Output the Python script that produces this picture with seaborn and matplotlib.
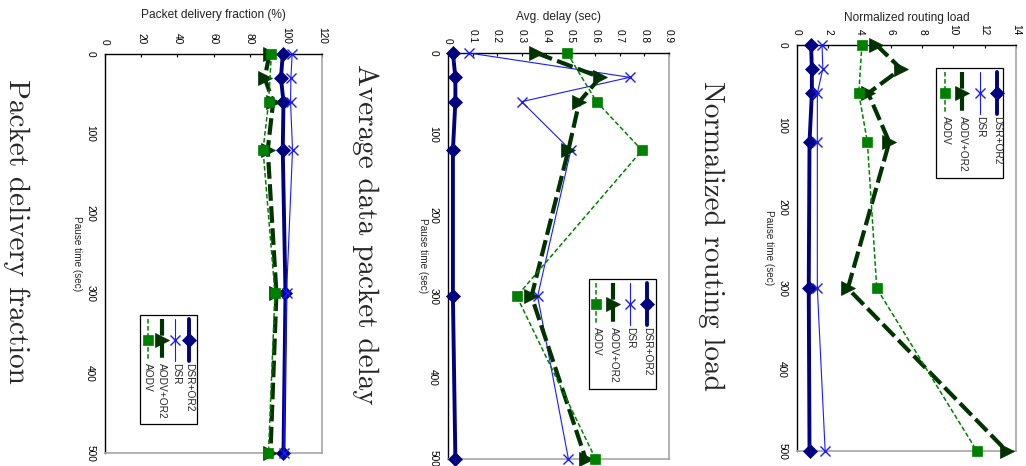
"""重绘：三幅顺时针旋转 90° 的 Excel 风格折线图（DSR / AODV 与 OR2 对比）。"""

import matplotlib.pyplot as plt
import pandas as pd
import seaborn as sns
from matplotlib.lines import Line2D
from matplotlib.patches import Rectangle

FIG_W, FIG_H = 1026, 466
DPI = 100

SERIES_NAMES = ["DSR+OR2", "DSR", "AODV+OR2", "AODV"]
PAUSE_TIMES = [0, 30, 60, 120, 300, 500]
AODV_PAUSE_TIMES = [0, 60, 120, 300, 500]
PAUSE_TICKS = [0, 100, 200, 300, 400, 500]

# Packet delivery fraction (%)
PDF_DSR_OR2 = [98.3, 97.3, 98.7, 98.3, 99.8, 98.7]
PDF_DSR = [103.5, 102.8, 102.6, 103.7, 100.4, 98.9]
PDF_AODV_OR2 = [91.0, 88.3, 93.0, 90.0, 94.8, 91.5]
PDF_AODV = [92.0, 90.5, 87.4, 94.0, 90.4]
PDF_TICKS = [0, 20, 40, 60, 80, 100, 120]
PDF_TICK_LABELS = ["0", "20", "40", "60", "80", "100", "120"]

# Avg. delay (sec)
DELAY_DSR_OR2 = [0.02, 0.03, 0.03, 0.02, 0.02, 0.03]
DELAY_DSR = [0.085, 0.74, 0.30, 0.50, 0.365, 0.49]
DELAY_AODV_OR2 = [0.36, 0.62, 0.535, 0.49, 0.34, 0.56]
DELAY_AODV = [0.485, 0.605, 0.79, 0.28, 0.60]
DELAY_TICKS = [0, 0.1, 0.2, 0.3, 0.4, 0.5, 0.6, 0.7, 0.8, 0.9]
DELAY_TICK_LABELS = ["0", "0.1", "0.2", "0.3", "0.4", "0.5", "0.6", "0.7", "0.8", "0.9"]

# Normalized routing load
LOAD_DSR_OR2 = [0.9, 0.95, 0.95, 0.8, 0.75, 0.8]
LOAD_DSR = [1.6, 1.65, 1.3, 1.3, 1.3, 1.8]
LOAD_AODV_OR2 = [5.05, 6.65, 4.55, 5.9, 3.25, 13.4]
LOAD_AODV = [4.15, 3.95, 4.5, 5.1, 11.5]
LOAD_TICKS = [0, 2, 4, 6, 8, 10, 12, 14]
LOAD_TICK_LABELS = ["0", "2", "4", "6", "8", "10", "12", "14"]

STYLES = {
    "DSR+OR2": dict(color="#000080", linewidth=2.8, linestyle="-",
                    marker="D", markersize=7.5, markeredgewidth=0.5),
    "DSR": dict(color="#1a1aff", linewidth=0.8, linestyle="-",
                marker="x", markersize=7, markeredgewidth=1.0),
    "AODV+OR2": dict(color="#003300", linewidth=3.0, linestyle=(0, (4, 1.3)),
                     marker=">", markersize=10, markeredgewidth=0.5),
    "AODV": dict(color="#008000", linewidth=1.1, linestyle=(0, (3, 1.6)),
                 marker="s", markersize=6.5, markeredgewidth=0.5),
}

GRAY = "#a6a6a6"


def fx(px: float) -> float:
    return px / FIG_W


def fy(py: float) -> float:
    return 1 - py / FIG_H


def _long_frame(values: list[list[float]]) -> pd.DataFrame:
    rows = []
    for name, vals in zip(SERIES_NAMES, values):
        times = AODV_PAUSE_TIMES if name == "AODV" else PAUSE_TIMES
        for t, v in zip(times, vals):
            rows.append({"series": name, "pause": t, "value": v})
    return pd.DataFrame(rows)


def _legend(fig, box, col0, step):
    """旋转后的图例：句柄竖放在上，文字在下自上而下读。"""
    x0, y0, x1, y1 = box
    fig.add_artist(Rectangle((fx(x0), fy(y1)), fx(x1 - x0), (y1 - y0) / FIG_H,
                             transform=fig.transFigure, facecolor="white",
                             edgecolor="black", linewidth=0.9, zorder=5))
    for i, name in enumerate(SERIES_NAMES):
        st = STYLES[name]
        cx = x1 - col0 - i * step
        fig.add_artist(Line2D([fx(cx), fx(cx)], [fy(y0 + 4), fy(y0 + 46)],
                              transform=fig.transFigure, color=st["color"],
                              linewidth=st["linewidth"], linestyle=st["linestyle"], zorder=6))
        fig.add_artist(Line2D([fx(cx)], [fy(y0 + 25)], transform=fig.transFigure,
                              color=st["color"], marker=st["marker"],
                              markersize=st["markersize"], markeredgewidth=st["markeredgewidth"],
                              markeredgecolor=st["color"], linestyle="none", zorder=7))
        fig.text(fx(cx + 0.5), fy(y0 + 48), name, rotation=-90, ha="center", va="top",
                 fontsize=7.3, zorder=8)


def draw_panel(fig, cfg):
    l, t, r, b = cfg["rect"]
    ax = fig.add_axes([fx(l), fy(b), fx(r - l), (b - t) / FIG_H])
    df = _long_frame(cfg["values"])
    for name in SERIES_NAMES:
        st = STYLES[name]
        sns.lineplot(data=df[df["series"] == name], x="value", y="pause", orient="y",
                     estimator=None, ax=ax, color=st["color"], linewidth=st["linewidth"],
                     linestyle=st["linestyle"], marker=st["marker"],
                     markersize=st["markersize"], markeredgewidth=st["markeredgewidth"],
                     markeredgecolor=st["color"], clip_on=False, zorder=3)

    ax.set_xlim(cfg["ticks"][0], cfg["ticks"][-1])
    ax.set_ylim(500, 0)
    ax.xaxis.tick_top()
    ax.xaxis.set_label_position("top")
    ax.set_xticks(cfg["ticks"], cfg["tick_labels"])
    ax.set_yticks(PAUSE_TICKS, [str(v) for v in PAUSE_TICKS])
    ax.tick_params(axis="both", direction="in", length=2.5, width=0.8,
                   labelsize=7.3, pad=7, colors="black")
    ax.tick_params(axis="x", labelrotation=-90)
    ax.tick_params(axis="y", labelrotation=-90)
    for lab in ax.get_yticklabels():
        lab.set_verticalalignment("center")

    ax.set_xlabel(cfg["xlabel"], fontsize=8.6, va="center", color="#222222")
    ax.xaxis.set_label_coords(0.5, cfg["xlabel_y"])
    ax.set_ylabel("Pause time (sec)", fontsize=7.2, rotation=-90, va="center", ha="center")
    ax.yaxis.set_label_coords(cfg["ylabel_x"], 0.5)

    for side in ("top", "left"):
        ax.spines[side].set_color("black")
        ax.spines[side].set_linewidth(1.0)
    for side in ("right", "bottom"):
        ax.spines[side].set_color(GRAY)
        ax.spines[side].set_linewidth(1.2)

    _legend(fig, cfg["legend_box"], cfg["legend_col0"], cfg["legend_step"])
    fig.text(fx(cfg["title_x"]), fy(cfg["title_y"]), cfg["title"], rotation=-90,
             ha="center", va="center", fontsize=21, family=["cmr10", "DejaVu Serif"])


def main() -> None:
    sns.set_style("white")
    plt.rcParams["font.family"] = ["Liberation Sans", "DejaVu Sans"]
    plt.rcParams["axes.unicode_minus"] = False

    fig = plt.figure(figsize=(FIG_W / DPI, FIG_H / DPI), dpi=DPI)

    panels = [
        dict(rect=(105, 54, 322, 453),
             values=[PDF_DSR_OR2, PDF_DSR, PDF_AODV_OR2, PDF_AODV],
             ticks=PDF_TICKS, tick_labels=PDF_TICK_LABELS,
             xlabel="Packet delivery fraction (%)", xlabel_y=1.098, ylabel_x=-0.13,
             legend_box=(140, 315, 197, 424), legend_col0=8, legend_step=13.7,
             title="Packet delivery fraction", title_x=16, title_y=231),
        dict(rect=(448, 53, 669, 458.5),
             values=[DELAY_DSR_OR2, DELAY_DSR, DELAY_AODV_OR2, DELAY_AODV],
             ticks=DELAY_TICKS, tick_labels=DELAY_TICK_LABELS,
             xlabel="Avg. delay (sec)", xlabel_y=1.088, ylabel_x=-0.113,
             legend_box=(589, 279, 656, 389), legend_col0=9, legend_step=17,
             title="Average data packet delay", title_x=365, title_y=234),
        dict(rect=(797, 44.5, 1016, 451),
             values=[LOAD_DSR_OR2, LOAD_DSR, LOAD_AODV_OR2, LOAD_AODV],
             ticks=LOAD_TICKS, tick_labels=LOAD_TICK_LABELS,
             xlabel="Normalized routing load", xlabel_y=1.066, ylabel_x=-0.128,
             legend_box=(936, 68, 1003, 178), legend_col0=6, legend_step=17.3,
             title="Normalized routing load", title_x=711, title_y=236),
    ]
    for cfg in panels:
        draw_panel(fig, cfg)

    fig.savefig("out.png", dpi=DPI)
    plt.close(fig)


if __name__ == "__main__":
    main()
